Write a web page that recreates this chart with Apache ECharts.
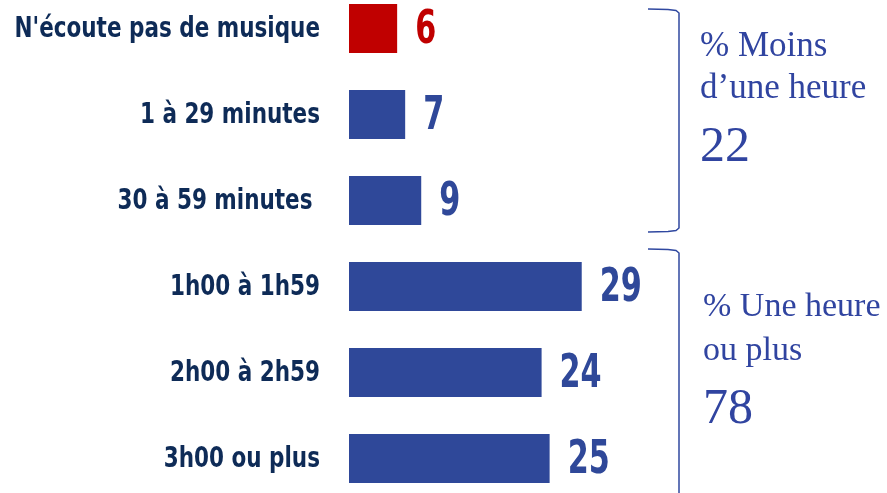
<!DOCTYPE html>
<html>
<head>
<meta charset="utf-8">
<script src="https://cdn.jsdelivr.net/npm/echarts@6/dist/echarts.min.js"></script>
<style>
  html, body { margin: 0; padding: 0; background: #fff; }
  #chart { width: 887px; height: 493px; }
</style>
</head>
<body>
<div id="chart"></div>
<script>
// données
const categories = ['N\'écoute pas de musique', '1 à 29 minutes', '30 à 59 minutes ', '1h00 à 1h59', '2h00 à 2h59', '3h00 ou plus']
const values = [6, 7, 9, 29, 24, 25]
const groupLess = [0, 1, 2]   // moins d'une heure
const groupMore = [3, 4, 5]   // une heure ou plus

const BLUE = '#2f4899'
const RED = '#c00000'
const NAVY = '#0e2b57'
const COND = '"DejaVu Sans Condensed", "DejaVu Sans", sans-serif'
const SERIF = '"Liberation Serif", "DejaVu Serif", serif'

const sumOf = (idx) => idx.reduce((s, i) => s + values[i], 0)
const colorOf = (i) => i === 0 ? RED : BLUE

const chart = echarts.init(document.getElementById('chart'))

// texte à droite
const annot = (x, y, text, size) => ({
  type: 'text',
  style: { x, y, text, font: `${size}px ${SERIF}`, fill: '#3044a0', verticalAlign: 'middle' }
})

// accolade
const bracket = (points) => ({
  type: 'polyline',
  shape: { points },
  style: { stroke: '#3048a0', lineWidth: 1.5, fill: null }
})

const option = {
  animation: false,
  grid: { left: 349, top: -14.5, width: 321, height: 516, outerBoundsMode: 'none', containLabel: false },
  xAxis: { type: 'value', min: 0, max: 40, show: false },
  yAxis: {
    type: 'category',
    inverse: true,
    data: categories,
    axisLine: { show: false },
    axisTick: { show: false },
    axisLabel: { show: false }
  },
  series: [
    {
      type: 'bar',
      barWidth: 49,
      data: values.map((v, i) => ({ value: v, itemStyle: { color: colorOf(i) } }))
    },
    {
      // valeurs à droite des barres (police étroite)
      type: 'custom',
      data: values.map((v, i) => [v, i]),
      encode: { x: 0, y: 1 },
      renderItem: (params, api) => {
        const p = api.coord([api.value(0), api.value(1)])
        return {
          type: 'text',
          x: p[0] + 18,
          y: p[1] + 3,
          scaleX: 0.73,
          style: {
            text: String(api.value(0)),
            font: `bold 46px ${COND}`,
            fill: colorOf(params.dataIndex),
            align: 'left',
            verticalAlign: 'middle'
          }
        }
      }
    },
    {
      // libellés des catégories
      type: 'custom',
      data: categories.map((c, i) => [0, i]),
      encode: { x: 0, y: 1 },
      renderItem: (params, api) => {
        const p = api.coord([0, api.value(1)])
        return {
          type: 'text',
          x: p[0] - 29,
          y: p[1] + 1,
          scaleX: 0.825,
          style: {
            text: categories[params.dataIndex],
            font: `bold 29px ${COND}`,
            fill: NAVY,
            align: 'right',
            verticalAlign: 'middle'
          }
        }
      }
    }
  ],
  graphic: [
    bracket([[648, 9], [668, 9.5], [676, 10.5], [679, 13], [679, 228], [676, 230.5], [668, 231.5], [648, 232]]),
    bracket([[648, 249], [668, 249.5], [676, 250.5], [679, 253], [679, 495]]),
    annot(700, 47, '% Moins', 35),
    annot(700, 89, 'd\u2019une heure', 35),
    annot(700, 148, String(sumOf(groupLess)), 50),
    annot(703, 307, '% Une heure', 34),
    annot(703, 351, 'ou plus', 34),
    annot(703, 410, String(sumOf(groupMore)), 50)
  ]
}

chart.setOption(option)
</script>
</body>
</html>
